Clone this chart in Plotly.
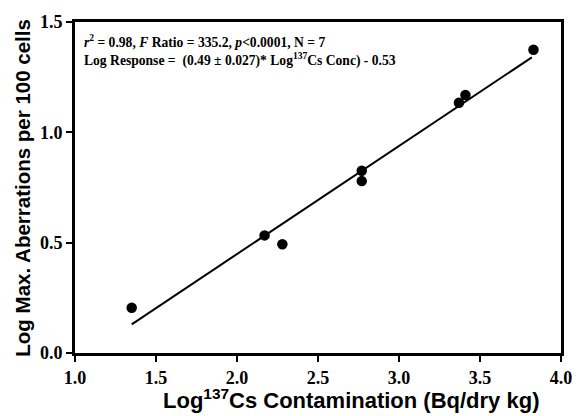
import plotly.graph_objects as go

log_cs = [1.35, 2.17, 2.28, 2.77, 2.77, 3.37, 3.41, 3.83]
log_aberr = [0.205, 0.533, 0.493, 0.826, 0.779, 1.134, 1.169, 1.374]
fit_x = [1.35, 3.82]
fit_y = [0.13, 1.34]
x_ticks = [1.0, 1.5, 2.0, 2.5, 3.0, 3.5, 4.0]
y_ticks = [0.0, 0.5, 1.0, 1.5]

L, R, T, B = 75, 12, 16, 63
W, H = 584, 416
pw, ph = W - L - R, H - T - B

fig = go.Figure()
fig.add_trace(go.Scatter(x=fit_x, y=fit_y, mode="lines",
                         line=dict(color="black", width=2), showlegend=False))
fig.add_trace(go.Scatter(x=log_cs, y=log_aberr, mode="markers",
                         marker=dict(color="black", size=10.5), showlegend=False))

serif = "Times New Roman, Liberation Serif, serif"
sans = "Arial, Liberation Sans, sans-serif"
tickfont = dict(family=serif, size=18, color="black", weight="bold")
fig.update_xaxes(range=[1.0, 4.0], tickvals=x_ticks, ticktext=[f"{v:.1f}" for v in x_ticks],
                 showline=True, linewidth=3, linecolor="black", mirror=True,
                 ticks="outside", ticklen=6, tickwidth=2, tickcolor="black",
                 showgrid=False, zeroline=False, tickfont=tickfont)
fig.update_yaxes(range=[0.0, 1.5], tickvals=y_ticks, ticktext=[f"{v:.1f}" for v in y_ticks],
                 showline=True, linewidth=3, linecolor="black", mirror=True,
                 ticks="outside", ticklen=6, tickwidth=2, tickcolor="black",
                 showgrid=False, zeroline=False, tickfont=tickfont)

# axis titles
fig.add_annotation(xref="paper", yref="paper", x=(357 - L) / pw, y=(H - B - 400) / ph,
                   xanchor="center", yanchor="middle", showarrow=False,
                   font=dict(family=sans, size=22, color="black", weight="bold"),
                   text="Log<sup>137</sup>Cs Contamination (Bq/dry kg)")
fig.add_annotation(xref="paper", yref="paper", x=(21 - L) / pw, y=0.5, textangle=-90,
                   xanchor="center", yanchor="middle", showarrow=False,
                   font=dict(family=sans, size=20.5, color="black", weight="bold"),
                   text="Log Max. Aberrations per 100 cells")

annfont = dict(family=serif, size=13.6, color="black", weight="bold")
fig.add_annotation(xref="paper", yref="paper", x=(82 - L) / pw, y=(H - B - 47) / ph,
                   xanchor="left", yanchor="bottom", showarrow=False, align="left", font=annfont,
                   text="<i>r</i><sup>2</sup> = 0.98, <i>F</i> Ratio = 335.2, <i>p</i>&lt;0.0001, N = 7")
fig.add_annotation(xref="paper", yref="paper", x=(82 - L) / pw, y=(H - B - 66) / ph,
                   xanchor="left", yanchor="bottom", showarrow=False, align="left", font=annfont,
                   text="Log Response =  (0.49 ± 0.027)* Log<sup>137</sup>Cs Conc) - 0.53")

fig.update_layout(width=W, height=H, margin=dict(l=L, r=R, t=T, b=B),
                  plot_bgcolor="white", paper_bgcolor="white")
fig.write_html("out.html")
